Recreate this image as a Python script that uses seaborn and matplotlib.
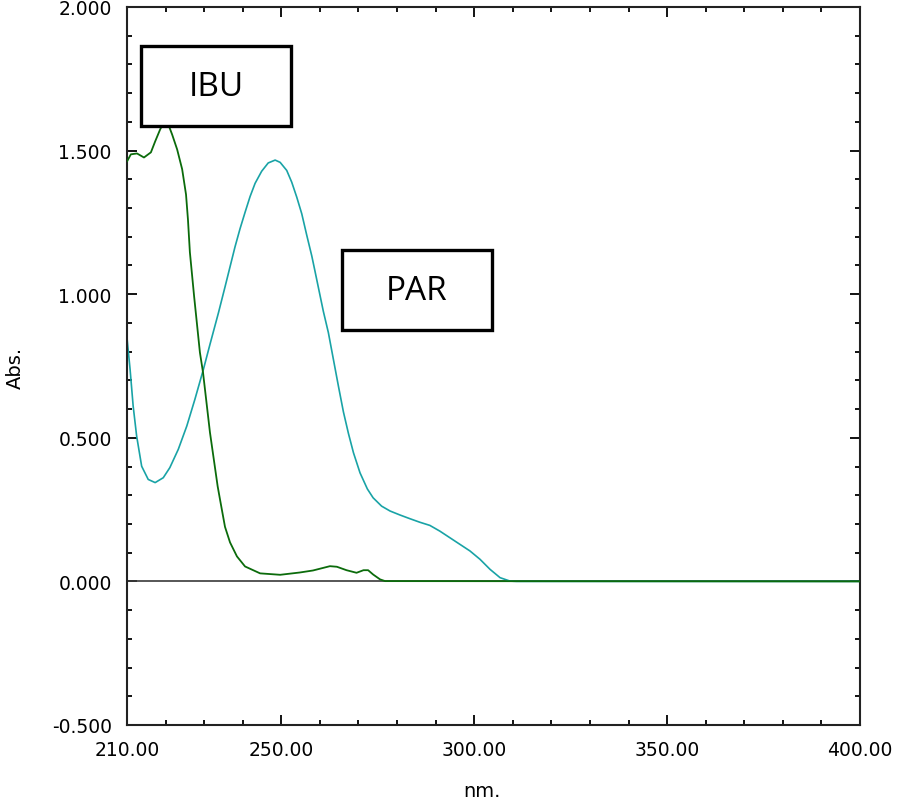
import numpy as np
import pandas as pd
import matplotlib.pyplot as plt
import seaborn as sns
from matplotlib.patches import Rectangle
from matplotlib.ticker import MultipleLocator

# --- Spectrum data ---

ibu_nm = [210.0, 211.0, 212.6, 214.4, 216.2, 217.3, 218.6, 219.6, 220.6, 221.7,
          223.0, 224.3, 225.3, 225.8, 226.3, 227.4, 228.9, 229.7, 231.5, 233.5,
          234.1, 235.4, 236.7, 238.5, 240.6, 244.5, 249.7, 254.8, 258.2, 262.6,
          264.4, 266.9, 269.5, 271.3, 272.5, 273.8, 275.6, 276.9, 400.0]
ibu_abs = [1.462, 1.487, 1.490, 1.476, 1.494, 1.532, 1.574, 1.600, 1.595, 1.556,
           1.504, 1.435, 1.347, 1.260, 1.146, 0.992, 0.797, 0.728, 0.519, 0.331,
           0.286, 0.190, 0.136, 0.087, 0.052, 0.028, 0.023, 0.031, 0.038, 0.053,
           0.051, 0.039, 0.030, 0.039, 0.039, 0.024, 0.007, 0.001, 0.000]

par_nm = [210.0, 210.8, 211.6, 212.5, 213.8, 215.5, 217.3, 219.4, 221.1, 223.3,
          225.5, 227.6, 229.8, 231.5, 233.7, 235.4, 236.7, 238.0, 239.3, 240.6,
          241.9, 243.2, 244.9, 246.6, 248.4, 249.7, 251.4, 252.7, 254.0, 255.3,
          256.6, 257.9, 258.7, 260.0, 260.9, 262.2, 263.5, 264.8, 266.1, 267.4,
          268.7, 270.4, 272.3, 273.8, 276.0, 278.2, 280.8, 283.4, 285.9, 288.5,
          291.1, 293.7, 296.3, 298.9, 301.5, 304.1, 306.7, 309.3, 311.0, 400.0]
par_abs = [0.848, 0.738, 0.610, 0.506, 0.401, 0.355, 0.344, 0.361, 0.396, 0.460,
           0.541, 0.634, 0.738, 0.825, 0.935, 1.025, 1.095, 1.165, 1.228, 1.285,
           1.340, 1.386, 1.428, 1.457, 1.467, 1.459, 1.431, 1.390, 1.338, 1.280,
           1.205, 1.133, 1.082, 0.998, 0.940, 0.866, 0.773, 0.680, 0.590, 0.515,
           0.448, 0.378, 0.322, 0.291, 0.262, 0.245, 0.231, 0.218, 0.206, 0.195,
           0.175, 0.152, 0.129, 0.106, 0.077, 0.042, 0.013, 0.001, 0.000, 0.000]

x_ticks = [210, 250, 300, 350, 400]
x_tick_labels = ["210.00", "250.00", "300.00", "350.00", "400.00"]
y_ticks = [-0.5, 0.0, 0.5, 1.0, 1.5, 2.0]
y_tick_labels = ["-0.500", "0.000", "0.500", "1.000", "1.500", "2.000"]

ibu_df = pd.DataFrame({'nm': ibu_nm, 'abs': ibu_abs})
par_df = pd.DataFrame({'nm': par_nm, 'abs': par_abs})

# --- Plot ---

sns.set_style("ticks")
plt.rcParams['font.family'] = ['DejaVu Sans']
plt.rcParams['text.color'] = 'black'

fig = plt.figure(figsize=(8.98, 8.03), dpi=100)
ax = fig.add_axes([127 / 898, 77 / 803, 733 / 898, 718 / 803])

ax.axhline(0, color='#3a3a3a', lw=1.2, zorder=1)
sns.lineplot(data=par_df, x='nm', y='abs', ax=ax, color='#19a3a6', lw=1.2,
             estimator=None, sort=False, zorder=2)
sns.lineplot(data=ibu_df, x='nm', y='abs', ax=ax, color='#0b6b0b', lw=1.3,
             estimator=None, sort=False, zorder=3)

ax.set_xlim(210, 400)
ax.set_ylim(-0.5, 2.0)
ax.set_xticks(x_ticks)
ax.set_xticklabels(x_tick_labels)
ax.set_yticks(y_ticks)
ax.set_yticklabels(y_tick_labels)
ax.xaxis.set_minor_locator(MultipleLocator(10))
ax.yaxis.set_minor_locator(MultipleLocator(0.1))
ax.tick_params(which='both', direction='in', top=True, right=True,
               color='black', width=1.3, labelsize=13.5, labelcolor='black')
ax.tick_params(which='major', length=7)
ax.tick_params(which='minor', length=3.5)
ax.tick_params(axis='x', which='major', pad=11)
ax.tick_params(axis='y', which='major', pad=11)
ax.set_xlabel('')
ax.set_ylabel('')
for side in ax.spines.values():
    side.set_linewidth(1.5)
    side.set_color('#222222')

fig.text(482 / 898, 1 - 792 / 803, 'nm.', ha='center', va='center', fontsize=14)
fig.text(15 / 898, 1 - 368 / 803, 'Abs.', ha='center', va='center',
         rotation=90, fontsize=14)

# Labelled boxes
for x0, y0, label in [(0.019, 0.834, 'IBU'), (0.293, 0.550, 'PAR')]:
    ax.add_patch(Rectangle((x0, y0), 0.2046, 0.111, transform=ax.transAxes,
                           facecolor='white', edgecolor='black', lw=2.4,
                           zorder=5))
    ax.text(x0 + 0.1023, y0 + 0.0555, label, transform=ax.transAxes,
            ha='center', va='center', fontsize=24, family=['Open Sans'],
            color='black', zorder=6)

fig.savefig('out.png', dpi=100)
